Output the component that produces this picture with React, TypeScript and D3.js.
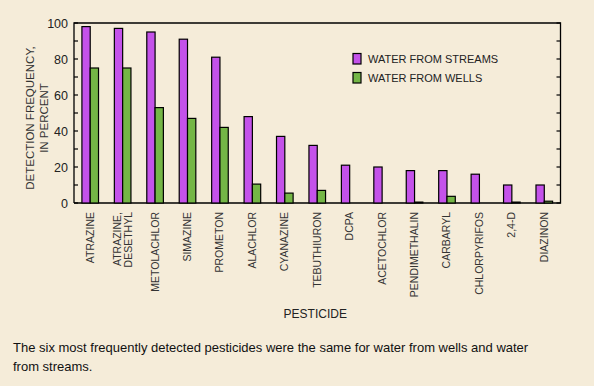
import React, { useEffect, useRef } from 'react';
import * as d3 from 'd3';

const pesticides = [
  'ATRAZINE', 'ATRAZINE,\nDESETHYL', 'METOLACHLOR', 'SIMAZINE', 'PROMETON', 'ALACHLOR',
  'CYANAZINE', 'TEBUTHIURON', 'DCPA', 'ACETOCHLOR', 'PENDIMETHALIN', 'CARBARYL',
  'CHLORPYRIFOS', '2,4-D', 'DIAZINON',
];
const streams = [98, 97, 95, 91, 81, 48, 37, 32, 21, 20, 18, 18, 16, 10, 10];
const wells = [75, 75, 53, 47, 42, 10.5, 5.5, 7, 0, 0, 0.5, 3.7, 0, 0.5, 1];
const yTicks = [0, 20, 40, 60, 80, 100];
const seriesNames = ['WATER FROM STREAMS', 'WATER FROM WELLS'];
const seriesColors = ['#c452ea', '#74b646'];

const App = () => {
  const svgRef = useRef<SVGSVGElement>(null);

  useEffect(() => {
    if (!svgRef.current) return;
    const svg = d3.select(svgRef.current);
    svg.selectAll('*').remove();

    const W = 594, H = 386;
    const left = 74, right = 560.5, top = 23, bottom = 203;
    const font = 'Liberation Sans, Arial, sans-serif';

    // beige background (reference is a dithered tint)
    svg.append('rect').attr('width', W).attr('height', H).attr('fill', '#f5ecd9');

    const x = d3.scaleBand<number>().domain(d3.range(pesticides.length)).range([left, right]);
    const y = d3.scaleLinear().domain([0, 100]).range([bottom, top]);
    const bw = 8.3;

    // frame: left, top, right, bottom
    svg.append('path')
      .attr('d', `M${left},${bottom}V${top}H${right}V${bottom}H${left}`)
      .attr('fill', 'none').attr('stroke', '#000').attr('stroke-width', 1.3);

    // ticks
    d3.range(0, 101, 10).forEach(v => {
      svg.append('line').attr('x1', left).attr('x2', left + 4).attr('y1', y(v)).attr('y2', y(v))
        .attr('stroke', '#000').attr('stroke-width', 1.2);
      svg.append('line').attr('x1', right - 4).attr('x2', right).attr('y1', y(v)).attr('y2', y(v))
        .attr('stroke', '#000').attr('stroke-width', 1.2);
    });
    yTicks.forEach(v => {
      svg.append('text').attr('x', left - 6).attr('y', y(v) + 4.5).attr('text-anchor', 'end')
        .attr('font-family', font).attr('font-size', 12.5).attr('fill', '#222').text(v);
    });

    // y axis title
    const yt = svg.append('text').attr('transform', `translate(34,${(top + bottom) / 2 + 5}) rotate(-90)`)
      .attr('text-anchor', 'middle').attr('font-family', font).attr('font-size', 11.5).attr('fill', '#333');
    yt.append('tspan').attr('x', 0).attr('dy', 0).text('DETECTION FREQUENCY,');
    yt.append('tspan').attr('x', 0).attr('dy', 14).text('IN PERCENT');

    // bars
    [streams, wells].forEach((vals, s) => {
      svg.append('g').selectAll('rect').data(vals).enter().append('rect')
        .attr('x', (_, i) => x(i)! + x.bandwidth() / 2 - bw + s * bw)
        .attr('y', d => y(d))
        .attr('width', bw)
        .attr('height', d => bottom - y(d))
        .attr('fill', seriesColors[s])
        .attr('stroke', d => (d > 0 ? '#000' : 'none'))
        .attr('stroke-width', 1.2);
    });

    // x labels
    pesticides.forEach((name, i) => {
      const lines = name.split('\n');
      const cx = x(i)! + x.bandwidth() / 2;
      lines.forEach((ln, j) => {
        const off = (j - (lines.length - 1) / 2) * 11;
        svg.append('text')
          .attr('transform', `translate(${cx + off + 3.5},${bottom + 9}) rotate(-90)`)
          .attr('text-anchor', 'end').attr('font-family', font).attr('font-size', 10.5)
          .attr('fill', '#333').text(ln);
      });
    });

    svg.append('text').attr('x', (left + right) / 2 - 2).attr('y', 318).attr('text-anchor', 'middle')
      .attr('font-family', font).attr('font-size', 12).attr('fill', '#222').text('PESTICIDE');

    // legend
    seriesNames.forEach((n, s) => {
      const ly = 53.5 + s * 19;
      svg.append('rect').attr('x', 353).attr('y', ly).attr('width', 8).attr('height', 10.5)
        .attr('fill', seriesColors[s]).attr('stroke', '#000').attr('stroke-width', 1.2);
      svg.append('text').attr('x', 368).attr('y', ly + 9.5).attr('font-family', font)
        .attr('font-size', 11).attr('fill', '#222').text(n);
    });

    // caption
    const cap = svg.append('text').attr('font-family', font).attr('font-size', 13).attr('fill', '#111');
    cap.append('tspan').attr('x', 13).attr('y', 352)
      .text('The six most frequently detected pesticides were the same for water from wells and water');
    cap.append('tspan').attr('x', 13).attr('y', 371).text('from streams.');
  }, []);

  return <svg ref={svgRef} width={594} height={386} style={{ position: 'absolute', left: 0, top: 0 }} />;
};

export default App;
